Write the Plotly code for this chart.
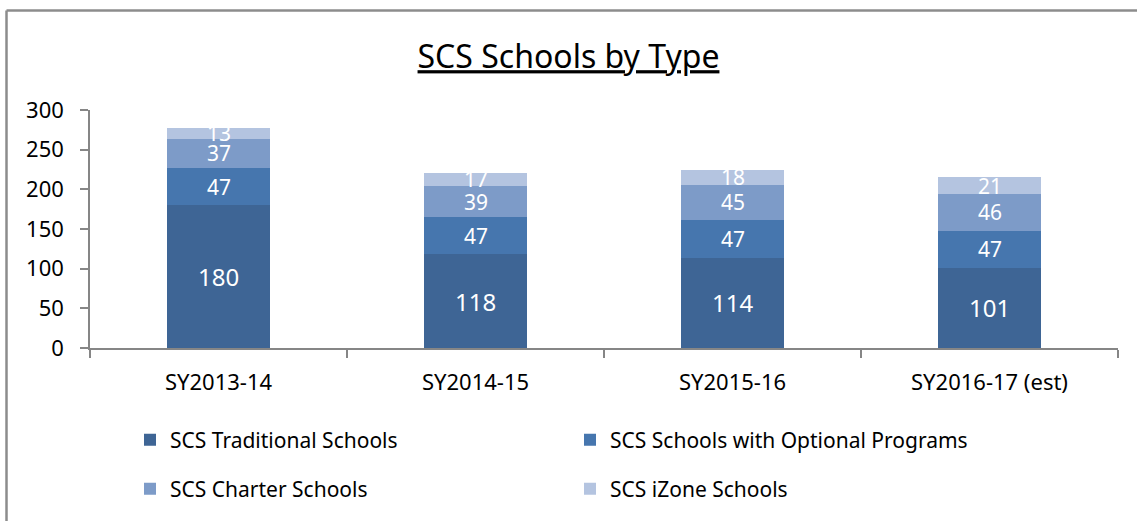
import plotly.graph_objects as go

categories = ["SY2013-14", "SY2014-15", "SY2015-16", "SY2016-17 (est)"]
traditional = [180, 118, 114, 101]
optional = [47, 47, 47, 47]
charter = [37, 39, 45, 46]
izone = [13, 17, 18, 21]

series = [
    ("SCS Traditional Schools", traditional, "#3E6595", "legend", 24),
    ("SCS Schools with Optional Programs", optional, "#4676AE", "legend", 21),
    ("SCS Charter Schools", charter, "#7D9BC8", "legend2", 21),
    ("SCS iZone Schools", izone, "#B4C4E0", "legend2", 21),
]

FONT = "Noto Sans"
fig = go.Figure()
for name, vals, color, leg, fs in series:
    fig.add_trace(go.Bar(
        x=categories, y=vals, name=name, marker=dict(color=color, line=dict(width=0)),
        width=0.4, legend=leg,
    ))

# data labels
cum = [0] * len(categories)
for name, vals, color, leg, fs in series:
    for i, v in enumerate(vals):
        fig.add_annotation(x=categories[i], y=cum[i] + v / 2, text=str(v), showarrow=False,
                           font=dict(family=FONT, size=fs, color="white"),
                           xref="x", yref="y", yanchor="middle")
        cum[i] += v

L, R, T, B = 90, 19, 110, 173
W, H = 1137, 521
pw, ph = W - L - R, H - T - B

def px(x):
    return (x - L) / pw

def py(y):
    return (H - B - y) / ph

# outer frame (left and top edges visible)
fig.add_shape(type="line", xref="paper", yref="paper", x0=px(6.5), x1=px(6.5), y0=py(10.5), y1=py(530),
              line=dict(color="#8C8C8C", width=2.5))
fig.add_shape(type="line", xref="paper", yref="paper", x0=px(6.5), x1=px(1145), y0=py(10.5), y1=py(10.5),
              line=dict(color="#8C8C8C", width=2.5))

fig.update_layout(
    width=W, height=H, barmode="stack",
    margin=dict(l=L, r=R, t=T, b=B),
    paper_bgcolor="white", plot_bgcolor="white",
    font=dict(family=FONT, size=21, color="black"),
    title=dict(text="<u>SCS Schools by Type</u>", x=0.5, xanchor="center", xref="container",
               y=1 - 57 / H, yanchor="middle", yref="container",
               font=dict(family=FONT, size=32, color="black")),
    xaxis=dict(showline=True, linecolor="#868686", linewidth=1.5, ticks="outside", ticklen=8,
               tickcolor="#868686", tickwidth=1.5, tickson="boundaries", showgrid=False,
               tickfont=dict(size=22), ticklabelstandoff=14),
    yaxis=dict(range=[0, 300], dtick=50, showline=True, linecolor="#868686", linewidth=1.5,
               ticks="outside", ticklen=8, tickcolor="#868686", tickwidth=1.5, showgrid=False,
               tickfont=dict(size=22), ticklabelstandoff=12, zeroline=False),
    legend=dict(orientation="h", x=px(130), y=py(440), xanchor="left", yanchor="middle",
                font=dict(size=21), entrywidth=395, traceorder="normal", bgcolor="rgba(0,0,0,0)"),
    legend2=dict(orientation="h", x=px(130), y=py(489), xanchor="left", yanchor="middle",
                 font=dict(size=21), entrywidth=395, traceorder="normal", bgcolor="rgba(0,0,0,0)"),
    showlegend=True,
)

fig.write_html("out.html", config={"displayModeBar": False},
               post_script="document.body.style.margin='0';")
